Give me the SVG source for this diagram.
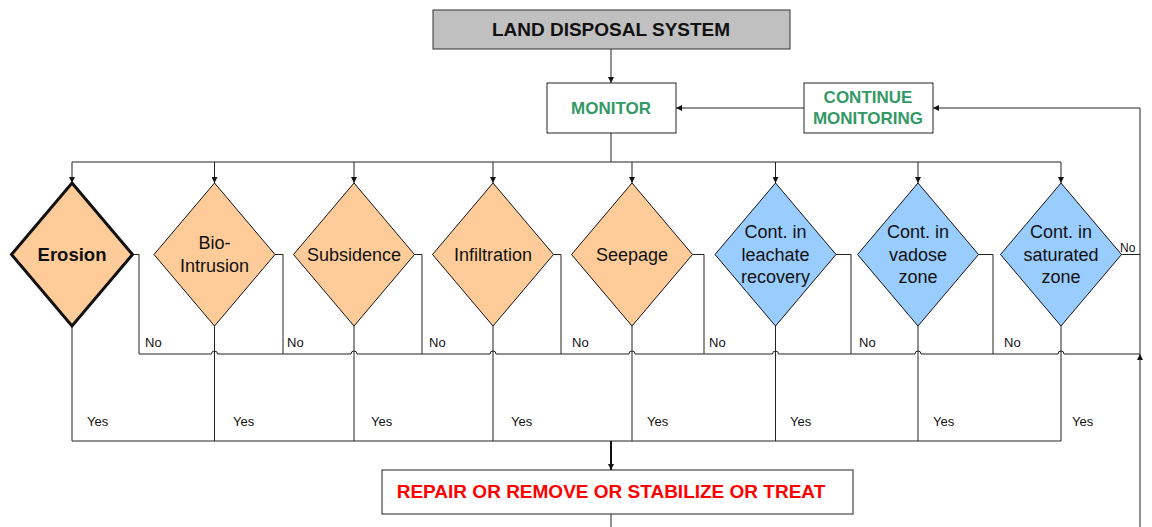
<svg xmlns="http://www.w3.org/2000/svg" width="1152" height="527" viewBox="0 0 1152 527">
  <style>
    text { font-family: "Liberation Sans", Arial, sans-serif; }
    .box { fill: #ffffff; stroke: #222222; stroke-width: 1; }
    .title { fill: #c0c0c0; stroke: #333333; stroke-width: 1; }
    .orange { fill: #ffcc99; stroke: #111111; stroke-width: 1; }
    .blue { fill: #99ccff; stroke: #111111; stroke-width: 1; }
    .bold3 { stroke-width: 3; }
    .ttl { font-size: 19px; font-weight: bold; fill: #111111; text-anchor: middle; }
    .grn { font-size: 17px; font-weight: bold; fill: #339966; text-anchor: middle; }
    .red { font-size: 19px; font-weight: bold; fill: #ff0000; text-anchor: middle; }
    .dt { font-size: 18px; fill: #111111; text-anchor: middle; }
    .dtb { font-size: 18.5px; font-weight: bold; fill: #111111; text-anchor: middle; }
    .lbl { font-size: 13px; fill: #111111; }
    .wire { fill: none; stroke: #222222; stroke-width: 1; }
    .thick { fill: none; stroke: #111111; stroke-width: 2; }
  </style>
  <defs>
    <marker id="arr" viewBox="0 0 10 10" refX="10" refY="5" markerWidth="6" markerHeight="6" markerUnits="userSpaceOnUse" orient="auto">
      <path d="M0,0 L10,5 L0,10 z" fill="#111111"/>
    </marker>
  </defs>

  <!-- connectors -->
  <g id="connectors">
    <!-- system to monitor -->
    <path class="wire" d="M611,49 V83" marker-end="url(#arr)"/>
    <!-- monitor fan-out to the checks -->
    <path class="wire" d="M611,133 V162"/>
    <path class="wire" d="M72,162 H1061"/>
    <path class="wire" d="M72,162 V183" marker-end="url(#arr)"/>
    <path class="wire" d="M214.5,162 V183" marker-end="url(#arr)"/>
    <path class="wire" d="M354,162 V183" marker-end="url(#arr)"/>
    <path class="wire" d="M493,162 V183" marker-end="url(#arr)"/>
    <path class="wire" d="M632,162 V183" marker-end="url(#arr)"/>
    <path class="wire" d="M775.5,162 V183" marker-end="url(#arr)"/>
    <path class="wire" d="M918,162 V183" marker-end="url(#arr)"/>
    <path class="wire" d="M1061,162 V183" marker-end="url(#arr)"/>

    <!-- continue monitoring back to monitor -->
    <path class="wire" d="M804,108 H676" marker-end="url(#arr)"/>

    <!-- "No" branches -->
    <path class="wire" d="M132.5,254.5 H139 V354"/>
    <path class="wire" d="M275,254.5 H283 V354"/>
    <path class="wire" d="M414.5,254.5 H422 V354"/>
    <path class="wire" d="M553.5,254.5 H561 V354"/>
    <path class="wire" d="M692.5,254.5 H704 V354"/>
    <path class="wire" d="M836,254.5 H851 V354"/>
    <path class="wire" d="M978.5,254.5 H993 V354"/>
    <path class="wire" d="M1121.5,254.5 H1140"/>
    <!-- common "No" bus, hopping over the "Yes" drops -->
    <path class="wire" d="M139,354 H211.5 a3,3 0 0 1 6,0 H351 a3,3 0 0 1 6,0 H490 a3,3 0 0 1 6,0 H629 a3,3 0 0 1 6,0 H772.5 a3,3 0 0 1 6,0 H915 a3,3 0 0 1 6,0 H1058 a3,3 0 0 1 6,0 H1140"/>

    <!-- return loop to continue monitoring -->
    <path class="wire" d="M1140,527 V354" marker-end="url(#arr)"/>
    <path class="wire" d="M1140,354 V108 H933" marker-end="url(#arr)"/>

    <!-- "Yes" branches -->
    <path class="wire" d="M72,326 V441"/>
    <path class="wire" d="M214.5,326 V441"/>
    <path class="wire" d="M354,326 V441"/>
    <path class="wire" d="M493,326 V441"/>
    <path class="wire" d="M632,326 V441"/>
    <path class="wire" d="M775.5,326 V441"/>
    <path class="wire" d="M918,326 V441"/>
    <path class="wire" d="M1061,326 V441"/>
    <path class="wire" d="M72,441 H1061"/>
    <path class="thick" d="M611,441 V470" marker-end="url(#arr)"/>
    <path class="wire" d="M611,514 V527"/>

    <!-- branch labels -->
    <text class="lbl" x="145" y="347">No</text>
    <text class="lbl" x="287" y="347">No</text>
    <text class="lbl" x="429" y="347">No</text>
    <text class="lbl" x="572" y="347">No</text>
    <text class="lbl" x="709" y="347">No</text>
    <text class="lbl" x="859" y="347">No</text>
    <text class="lbl" x="1004" y="347">No</text>
    <text class="lbl" x="1120" y="252" style="font-size:12px">No</text>
    <text class="lbl" x="87" y="426">Yes</text>
    <text class="lbl" x="233" y="426">Yes</text>
    <text class="lbl" x="371" y="426">Yes</text>
    <text class="lbl" x="511" y="426">Yes</text>
    <text class="lbl" x="647" y="426">Yes</text>
    <text class="lbl" x="790" y="426">Yes</text>
    <text class="lbl" x="933" y="426">Yes</text>
    <text class="lbl" x="1072" y="426">Yes</text>
  </g>

  <!-- boxes -->
  <g id="land-disposal-system">
    <rect class="title" x="433" y="10" width="357" height="39"/>
    <text class="ttl" x="611" y="36">LAND DISPOSAL SYSTEM</text>
  </g>
  <g id="monitor">
    <rect class="box" x="547" y="83" width="129" height="50"/>
    <text class="grn" x="611" y="114">MONITOR</text>
  </g>
  <g id="continue-monitoring">
    <rect class="box" x="804" y="83" width="129" height="50"/>
    <text class="grn" x="868" y="103">CONTINUE</text>
    <text class="grn" x="868" y="124">MONITORING</text>
  </g>
  <g id="repair">
    <rect class="box" x="382" y="470" width="471" height="44"/>
    <text class="red" x="611" y="498">REPAIR OR REMOVE OR STABILIZE OR TREAT</text>
  </g>

  <!-- decision checks -->
  <g id="erosion">
    <polygon class="orange bold3" points="72,183 132.5,254.5 72,326 11.5,254.5"/>
    <text class="dtb" x="72" y="261">Erosion</text>
  </g>
  <g id="bio-intrusion">
    <polygon class="orange" points="214.5,183 275,254.5 214.5,326 154,254.5"/>
    <text class="dt" x="214.5" y="249">Bio-</text>
    <text class="dt" x="214.5" y="272">Intrusion</text>
  </g>
  <g id="subsidence">
    <polygon class="orange" points="354,183 414.5,254.5 354,326 293.5,254.5"/>
    <text class="dt" x="354" y="260.5">Subsidence</text>
  </g>
  <g id="infiltration">
    <polygon class="orange" points="493,183 553.5,254.5 493,326 432.5,254.5"/>
    <text class="dt" x="493" y="260.5">Infiltration</text>
  </g>
  <g id="seepage">
    <polygon class="orange" points="632,183 692.5,254.5 632,326 571.5,254.5"/>
    <text class="dt" x="632" y="260.5">Seepage</text>
  </g>
  <g id="leachate-recovery">
    <polygon class="blue" points="775.5,183 836,254.5 775.5,326 715,254.5"/>
    <text class="dt" x="775.5" y="238">Cont. in</text>
    <text class="dt" x="775.5" y="261">leachate</text>
    <text class="dt" x="775.5" y="283">recovery</text>
  </g>
  <g id="vadose-zone">
    <polygon class="blue" points="918,183 978.5,254.5 918,326 857.5,254.5"/>
    <text class="dt" x="918" y="238">Cont. in</text>
    <text class="dt" x="918" y="261">vadose</text>
    <text class="dt" x="918" y="283">zone</text>
  </g>
  <g id="saturated-zone">
    <polygon class="blue" points="1061,183 1121.5,254.5 1061,326 1000.5,254.5"/>
    <text class="dt" x="1061" y="238">Cont. in</text>
    <text class="dt" x="1061" y="261">saturated</text>
    <text class="dt" x="1061" y="283">zone</text>
  </g>
</svg>
